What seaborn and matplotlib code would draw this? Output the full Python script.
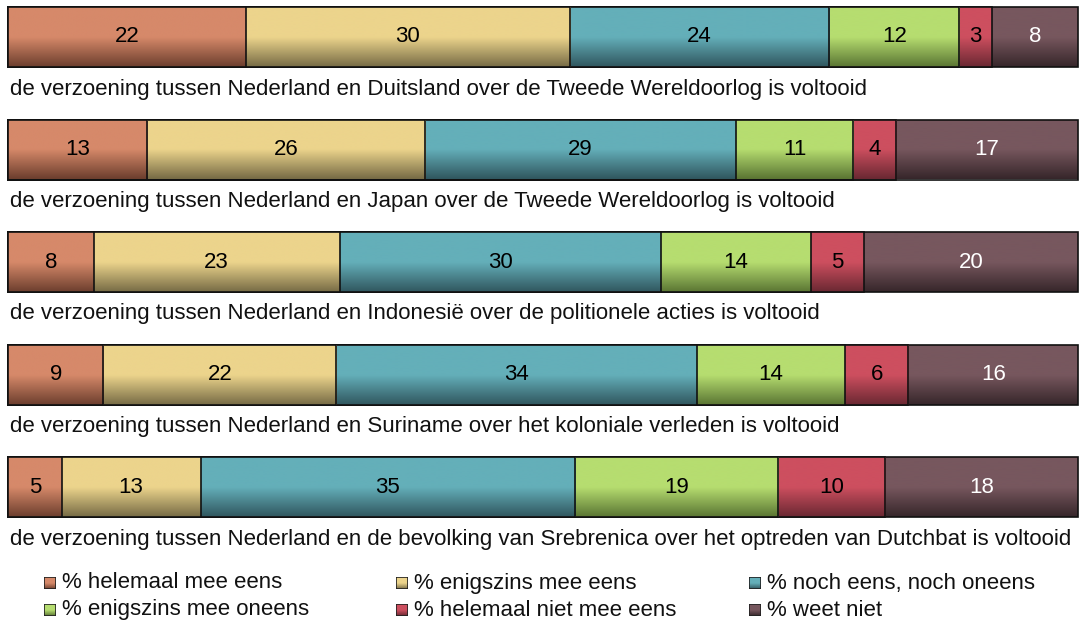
import numpy as np
import pandas as pd
import seaborn as sns
import matplotlib.pyplot as plt
from matplotlib.colors import LinearSegmentedColormap
from matplotlib.patches import Rectangle

# statements (one bar each)
statements = [
    "de verzoening tussen Nederland en Duitsland over de Tweede Wereldoorlog is voltooid",
    "de verzoening tussen Nederland en Japan over de Tweede Wereldoorlog is voltooid",
    "de verzoening tussen Nederland en Indonesië over de politionele acties is voltooid",
    "de verzoening tussen Nederland en Suriname over het koloniale verleden is voltooid",
    "de verzoening tussen Nederland en de bevolking van Srebrenica over het optreden van Dutchbat is voltooid",
]
answers = [
    "% helemaal mee eens",
    "% enigszins mee eens",
    "% noch eens, noch oneens",
    "% enigszins mee oneens",
    "% helemaal niet mee eens",
    "% weet niet",
]
helemaal_eens = [22, 13, 8, 9, 5]
enigszins_eens = [30, 26, 23, 22, 13]
noch_noch = [24, 29, 30, 34, 35]
enigszins_oneens = [12, 11, 14, 14, 19]
helemaal_oneens = [3, 4, 5, 6, 10]
weet_niet = [8, 17, 20, 16, 18]

# gradient per segment: top colour, bottom colour
top_colors = ["#d6896a", "#ecd48c", "#64afb9", "#b6dd70", "#cd4f5f", "#77575e"]
bottom_colors = ["#6c3e2e", "#766b45", "#30565e", "#5a7533", "#6a2832", "#36262a"]
label_colors = ["black", "black", "black", "black", "black", "white"]

values = np.array([helemaal_eens, enigszins_eens, noch_noch,
                   enigszins_oneens, helemaal_oneens, weet_niet], dtype=float)
shares = values / values.sum(axis=0) * 100  # bars fill the full width
cum = shares.cumsum(axis=0)

W, H = 1079, 628
fig = plt.figure(figsize=(W / 100, H / 100), dpi=100)
sns.set_style("white")
plt.rcParams["font.family"] = ["Liberation Sans", "DejaVu Sans"]
ax = fig.add_axes([0, 0, 1, 1])

px_x = 10.7    # pixels per percent
px_y = 112.5   # pixels per bar slot
bar_h = 60 / px_y
fs = 16


def cmap_for(i):
    return LinearSegmentedColormap.from_list(
        f"seg{i}", [top_colors[i], top_colors[i],
                    bottom_colors[i]], N=256)


grad = np.linspace(0, 1, 256).reshape(-1, 1)

# overlay cumulative bars: widest first, each narrower one on top
for k in range(len(answers) - 1, -1, -1):
    df = pd.DataFrame({"stelling": statements, "cum": cum[k]})
    n_before = len(ax.patches)
    sns.barplot(data=df, x="cum", y="stelling", orient="h", width=bar_h,
                color=top_colors[k], ax=ax)
    z = 2 + (len(answers) - k) * 2
    for p in ax.patches[n_before:]:
        x0, y0 = p.get_x(), p.get_y()
        w, h = p.get_width(), p.get_height()
        p.set_facecolor("none")
        p.set_edgecolor("#111111")
        p.set_linewidth(1.2)
        p.set_zorder(z + 1)
        im = ax.imshow(grad, cmap=cmap_for(k), aspect="auto",
                       extent=(x0, x0 + w, y0 + h, y0), zorder=z,
                       interpolation="bilinear")
        im.set_clip_path(p)

# numbers in the segments
for i in range(len(statements)):
    for k in range(len(answers)):
        mid = cum[k, i] - shares[k, i] / 2
        ax.text(mid, i, f"{int(values[k, i])}", ha="center", va="center",
                fontsize=fs, color=label_colors[k], zorder=30)
    ax.text(-8 / px_x + 10 / px_x, i + 52 / px_y, statements[i],
            ha="left", va="center", fontsize=fs, color="#111111")

ax.set_xlim(-8 / px_x, (W - 8) / px_x)
ax.set_ylim((H - 37) / px_y, -37 / px_y)
ax.axis("off")

# legend: 3 columns, row-wise order
leg_x = [50, 402, 755]
leg_y = [583, 610]
for k, name in enumerate(answers):
    cx = leg_x[k % 3]
    cy = leg_y[k // 3]
    fx, fy = cx / W, 1 - cy / H
    sw, sh = 12 / W, 12 / H
    lax = fig.add_axes([fx - sw / 2, fy - sh / 2, sw, sh])
    lax.imshow(grad, cmap=cmap_for(k), aspect="auto", extent=(0, 1, 1, 0))
    lax.add_patch(Rectangle((0, 0), 1, 1, fill=False, edgecolor="#222222",
                            linewidth=1.2, transform=lax.transAxes))
    lax.set_xlim(0, 1)
    lax.set_ylim(1, 0)
    lax.axis("off")
    fig.text((cx + 12) / W, fy, name, ha="left", va="center",
             fontsize=fs, color="#111111")

fig.savefig("out.png", dpi=100)
